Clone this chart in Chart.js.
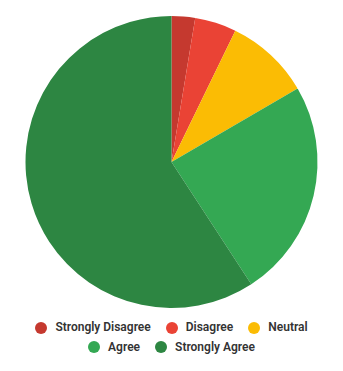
<!DOCTYPE html>
<html><head><meta charset="utf-8">
<script src="https://cdn.jsdelivr.net/npm/chart.js@4"></script>
<style>
html,body{margin:0;padding:0;background:#fff}
#wrap{position:relative;width:343px;height:371px}
#cw{position:absolute;left:0;top:0;width:343px;height:314px}
#legend{position:absolute;left:20px;right:20px;top:318px;display:flex;flex-wrap:wrap;justify-content:center;column-gap:15px;font-family:Roboto,sans-serif;font-size:12px;font-weight:600;color:#333;line-height:19.5px}
.item{display:inline-flex;align-items:center;white-space:nowrap}
.dot{width:12px;height:12px;border-radius:50%;margin-right:8px;flex:none}
</style>
</head><body><div id="wrap"><div id="cw"><canvas id="c"></canvas></div><div id="legend"></div></div>
<script>
const categories = ["Strongly Disagree", "Disagree", "Neutral", "Agree", "Strongly Agree"];
const values = [2.6, 4.6, 9.4, 24.2, 59.2];
const colors = ["#c5392f", "#ea4335", "#fbbc04", "#34a853", "#2d8642"];
const chart = new Chart(document.getElementById('c'), {
  type: 'pie',
  data: { labels: categories, datasets: [{ data: values, backgroundColor: colors, borderWidth: 0 }] },
  options: {
    responsive: true, maintainAspectRatio: false, animation: false,
    layout: { padding: { top: 16, bottom: 6 } },
    plugins: { legend: { display: false }, tooltip: { enabled: false } }
  }
});
const lg = document.getElementById('legend');
chart.data.labels.forEach((lab, i) => {
  const it = document.createElement('span'); it.className = 'item';
  const d = document.createElement('span'); d.className = 'dot'; d.style.background = chart.data.datasets[0].backgroundColor[i];
  it.appendChild(d); it.appendChild(document.createTextNode(lab)); lg.appendChild(it);
});
</script></body></html>
